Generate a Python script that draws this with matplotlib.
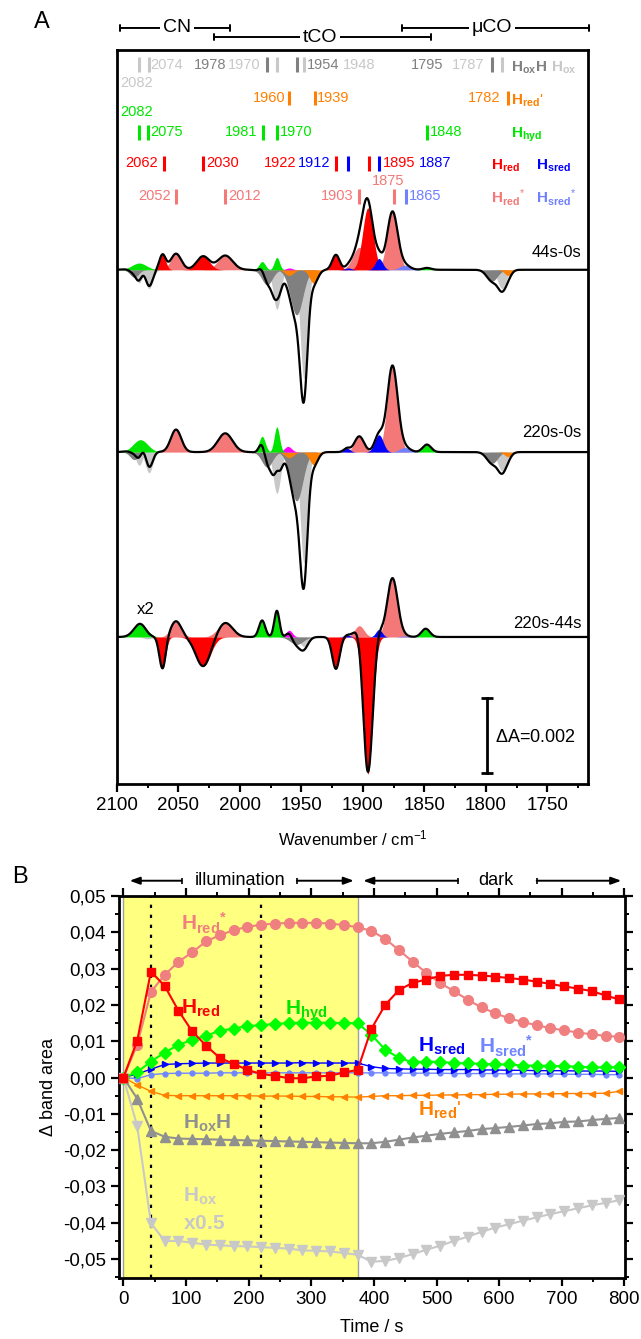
import numpy as np
import matplotlib
matplotlib.use("Agg")
import matplotlib.pyplot as plt
import matplotlib.transforms as mtransforms
from matplotlib.ticker import MultipleLocator, FuncFormatter

plt.rcParams['font.family'] = ['Liberation Sans', 'DejaVu Sans']
plt.rcParams['mathtext.fontset'] = 'custom'
plt.rcParams['mathtext.rm'] = 'Liberation Sans'
plt.rcParams['mathtext.bf'] = 'Liberation Sans:bold'
plt.rcParams['mathtext.it'] = 'Liberation Sans:italic'

# ---------------- colours ----------------
col = {'Hox': '#c8c8c8', 'HoxH': '#808080', 'Hredp': '#ff8000', 'Hhyd': '#00e600',
       'Hred': '#ff0000', 'Hsred': '#0000ff', 'Hreds': '#f47878', 'Hsreds': '#7080ff',
       'mag': '#ff00ff'}

# ---------------- panel A data: band fits (species, centre cm-1, amplitude mdA, fwhm) ----------------
bands_44_0 = [
    ('HoxH', 2086, -0.20, 8), ('Hox', 2082, -0.35, 6), ('Hox', 2074, -0.50, 7), ('Hhyd', 2082, 0.18, 14),
    ('Hred', 2063, 0.40, 6), ('Hreds', 2052, 0.43, 10), ('Hred', 2030, 0.36, 12), ('Hreds', 2012, 0.38, 14),
    ('HoxH', 1978, -0.40, 10), ('Hox', 1970, -1.05, 7), ('Hhyd', 1982, 0.22, 6), ('Hhyd', 1970, 0.33, 5),
    ('mag', 1960, 0.05, 6), ('Hredp', 1960, -0.15, 8), ('Hox', 1948, -2.90, 7), ('HoxH', 1954, -1.20, 12),
    ('Hredp', 1940, -0.36, 8),
    ('Hred', 1922, 0.40, 7), ('Hsred', 1912, 0.05, 6), ('Hreds', 1903, 0.60, 12), ('Hred', 1896, 1.65, 10),
    ('Hreds', 1876, 1.55, 10), ('Hsred', 1887, 0.30, 7), ('Hsreds', 1866, 0.12, 10), ('Hhyd', 1848, 0.05, 8),
    ('Hox', 1787, -0.50, 8), ('HoxH', 1795, -0.30, 10), ('Hredp', 1782, -0.15, 7),
]
bands_220_0 = [
    ('HoxH', 2086, -0.20, 8), ('Hox', 2082, -0.35, 6), ('Hox', 2074, -0.55, 7), ('Hhyd', 2081, 0.33, 14),
    ('Hreds', 2052, 0.60, 10), ('Hreds', 2012, 0.50, 14),
    ('HoxH', 1978, -0.40, 10), ('Hox', 1970, -1.10, 7), ('Hhyd', 1982, 0.42, 6), ('Hhyd', 1970, 0.67, 5),
    ('mag', 1961, 0.15, 7), ('Hredp', 1960, -0.15, 8), ('Hox', 1948, -2.95, 7), ('HoxH', 1954, -1.30, 12),
    ('Hredp', 1940, -0.34, 8),
    ('Hsred', 1913, 0.10, 6), ('Hreds', 1903, 0.42, 9), ('Hreds', 1876, 2.30, 10), ('Hsred', 1887, 0.46, 8),
    ('Hsreds', 1866, 0.12, 10), ('Hhyd', 1848, 0.20, 8),
    ('Hox', 1787, -0.50, 8), ('HoxH', 1795, -0.30, 10), ('Hredp', 1782, -0.12, 7),
]
bands_220_44 = [
    ('Hox', 2075, -0.05, 8), ('Hhyd', 2081, 0.36, 12),
    ('Hred', 2063, -0.85, 6), ('Hreds', 2052, 0.42, 10), ('Hred', 2030, -0.78, 14), ('Hreds', 2012, 0.38, 14),
    ('Hox', 1948, -0.25, 8), ('HoxH', 1954, -0.20, 12), ('Hhyd', 1982, 0.44, 6), ('Hhyd', 1970, 0.70, 5),
    ('mag', 1960, 0.18, 6),
    ('Hred', 1922, -0.85, 7), ('Hsred', 1913, 0.05, 6), ('Hreds', 1903, 0.30, 9), ('Hred', 1896, -3.65, 9),
    ('Hreds', 1876, 1.57, 10), ('Hsred', 1887, 0.20, 6), ('Hsreds', 1866, 0.03, 8), ('Hhyd', 1849, 0.22, 8),
]
trace_names = ['44s-0s', '220s-0s', '220s-44s']

# band marker rows (wavenumbers)
mark_ox = [2082, 2074, 1970, 1948, 1787]
mark_oxh = [1978, 1954, 1795]
mark_redp = [1960, 1939, 1782]
mark_hyd = [2082, 2075, 1981, 1970, 1848]
mark_red = [2062, 2030, 1922, 1895]
mark_sred = [1912, 1887]
mark_reds = [2052, 2012, 1903, 1875]
mark_sreds = [1865]

# ---------------- panel B data ----------------
time_s = [0, 22, 44, 66, 88, 110, 132, 154, 176, 198, 220, 242, 264, 286, 308, 330, 352, 374,
          396, 418, 440, 462, 484, 506, 528, 550, 572, 594, 616, 638, 660, 682, 704, 726, 748, 770, 792]
h_red_star = [0, 0.0090, 0.0236, 0.0283, 0.0319, 0.0345, 0.0375, 0.0392, 0.0406, 0.0415, 0.0421, 0.0424,
              0.0426, 0.0426, 0.0426, 0.0424, 0.0420, 0.0414, 0.0404, 0.0382, 0.0351, 0.0319, 0.0288,
              0.0260, 0.0238, 0.0214, 0.0193, 0.0177, 0.0163, 0.0153, 0.0144, 0.0136, 0.0130, 0.0124,
              0.0119, 0.0115, 0.0112]
h_red = [0, 0.0101, 0.0292, 0.0252, 0.0184, 0.0127, 0.0088, 0.0054, 0.0038, 0.0021, 0.0010, 0.0005,
         -0.0002, -0.0002, 0.0003, 0.0005, 0.0014, 0.0021, 0.0134, 0.0200, 0.0241, 0.0261, 0.0270,
         0.0280, 0.0283, 0.0283, 0.0281, 0.0278, 0.0274, 0.0270, 0.0264, 0.0258, 0.0251, 0.0245,
         0.0238, 0.0226, 0.0215]
h_hyd = [0, 0.0015, 0.0044, 0.0069, 0.0090, 0.0104, 0.0115, 0.0129, 0.0135, 0.0142, 0.0144, 0.0148,
         0.0150, 0.0151, 0.0151, 0.0151, 0.0150, 0.0150, 0.0118, 0.0077, 0.0054, 0.0042, 0.0044,
         0.0043, 0.0040, 0.0039, 0.0038, 0.0036, 0.0036, 0.0033, 0.0033, 0.0032, 0.0031, 0.0030,
         0.0028, 0.0028, 0.0029]
h_sred = [0, 0.0010, 0.0023, 0.0036, 0.0038, 0.0039, 0.0040, 0.0040, 0.0040, 0.0040, 0.0040, 0.0040,
          0.0040, 0.0041, 0.0040, 0.0040, 0.0040, 0.0040, 0.0030, 0.0025, 0.0024, 0.0023, 0.0023,
          0.0022, 0.0022, 0.0022, 0.0021, 0.0021, 0.0020, 0.0020, 0.0019, 0.0019, 0.0019, 0.0018,
          0.0018, 0.0018, 0.0017]
h_sred_star = [0, -0.0003, 0.0008, 0.0011, 0.0012, 0.0012, 0.0012, 0.0013, 0.0013, 0.0013, 0.0013,
               0.0013, 0.0013, 0.0013, 0.0013, 0.0013, 0.0013, 0.0013, 0.0013, 0.0013, 0.0012, 0.0012,
               0.0012, 0.0012, 0.0011, 0.0011, 0.0011, 0.0011, 0.0010, 0.0010, 0.0010, 0.0010, 0.0009,
               0.0009, 0.0009, 0.0008, 0.0008]
h_red_p = [0, -0.0020, -0.0038, -0.0049, -0.0050, -0.0050, -0.0050, -0.0050, -0.0050, -0.0050,
           -0.0051, -0.0051, -0.0051, -0.0052, -0.0052, -0.0053, -0.0053, -0.0054, -0.0052, -0.0050,
           -0.0050, -0.0049, -0.0049, -0.0048, -0.0048, -0.0047, -0.0047, -0.0046, -0.0046, -0.0045,
           -0.0045, -0.0045, -0.0044, -0.0044, -0.0044, -0.0043, -0.0038]
h_oxh = [0, -0.0058, -0.0147, -0.0163, -0.0168, -0.0169, -0.0170, -0.0171, -0.0172, -0.0173, -0.0174,
         -0.0175, -0.0176, -0.0177, -0.0178, -0.0179, -0.0180, -0.0181, -0.0181, -0.0177, -0.0171,
         -0.0165, -0.0160, -0.0155, -0.0151, -0.0147, -0.0142, -0.0139, -0.0136, -0.0132, -0.0128,
         -0.0126, -0.0122, -0.0121, -0.0117, -0.0114, -0.0111]
h_ox_half = [0, -0.0133, -0.0401, -0.0450, -0.0450, -0.0455, -0.0460, -0.0462, -0.0464, -0.0465,
             -0.0467, -0.0469, -0.0471, -0.0476, -0.0477, -0.0479, -0.0483, -0.0488, -0.0507, -0.0505,
             -0.0497, -0.0486, -0.0474, -0.0463, -0.0450, -0.0438, -0.0425, -0.0413, -0.0404, -0.0394,
             -0.0385, -0.0376, -0.0368, -0.0360, -0.0352, -0.0345, -0.0338]

W, H = 641, 1339
fig = plt.figure(figsize=(W / 100, H / 100), dpi=100)

# ======================= panel A =======================
axA = fig.add_axes([117 / W, 1 - 784 / H, (588 - 117) / W, (784 - 50) / H])
axA.set_xlim(2100, 1717)
axA.set_ylim(0, 19.57)
wn = np.linspace(2100, 1717, 1500)
offsets = [13.71, 8.85, 3.92]
draw_order = ['Hox', 'HoxH', 'Hredp', 'mag', 'Hhyd', 'Hreds', 'Hsreds', 'Hred', 'Hsred']


def gauss(x, c, a, w):
    return a * np.exp(-4 * np.log(2) * (x - c) ** 2 / w ** 2)


for bands, base in zip([bands_44_0, bands_220_0, bands_220_44], offsets):
    total = np.zeros_like(wn)
    for sp, c, a, w in bands:
        total += gauss(wn, c, a, w)
    for key in draw_order:
        for sp, c, a, w in bands:
            if sp == key:
                axA.fill_between(wn, base, base + gauss(wn, c, a, w), color=col[sp], lw=0)
    axA.plot(wn, base + total, color='k', lw=1.6)

axA.text(1722, 14.16, trace_names[0], ha='right', va='center', fontsize=12)
axA.text(1722, 9.36, trace_names[1], ha='right', va='center', fontsize=12)
axA.text(1722, 4.29, trace_names[2], ha='right', va='center', fontsize=12)
axA.text(2084, 4.64, 'x2', ha='left', va='center', fontsize=12)

# scale bar
axA.plot([1799, 1799], [0.29, 2.29], color='k', lw=2, marker='_', ms=8, mew=2)
axA.text(1793, 1.25, r'$\Delta$A=0.002', ha='left', va='center', fontsize=13)

# band marker rows
tr = mtransforms.blended_transform_factory(axA.transData, axA.transAxes)
rows = [(mark_ox, 'Hox', 0.9796), (mark_oxh, 'HoxH', 0.9796), (mark_redp, 'Hredp', 0.9346),
        (mark_hyd, 'Hhyd', 0.888), (mark_red, 'Hred', 0.846), (mark_sred, 'Hsred', 0.846),
        (mark_reds, 'Hreds', 0.801), (mark_sreds, 'Hsreds', 0.801)]
for marks, key, yc in rows:
    for m in marks:
        axA.plot([m, m], [yc - 0.0102, yc + 0.0102], color=col[key], lw=2.2, transform=tr,
                 solid_capstyle='butt')

peak_labels = [
    ('2074', 2073.2, 'left', 0.9796, 'Hox'), ('2082', 2097.5, 'left', 0.955, 'Hox'),
    ('1978', 2010.9, 'right', 0.9796, 'HoxH'), ('1970', 1983.2, 'right', 0.9796, 'Hox'),
    ('1954', 1946.0, 'left', 0.9796, 'HoxH'), ('1948', 1916.6, 'left', 0.9796, 'Hox'),
    ('1795', 1834.8, 'right', 0.9796, 'HoxH'), ('1787', 1801.0, 'right', 0.9796, 'Hox'),
    ('1960', 1962.9, 'right', 0.9346, 'Hredp'), ('1939', 1937.2, 'left', 0.9346, 'Hredp'),
    ('1782', 1788.0, 'right', 0.9346, 'Hredp'),
    ('2082', 2097.5, 'left', 0.9155, 'Hhyd'), ('2075', 2073.2, 'left', 0.888, 'Hhyd'),
    ('1981', 1986.0, 'right', 0.888, 'Hhyd'), ('1970', 1967.5, 'left', 0.888, 'Hhyd'),
    ('1848', 1845.7, 'left', 0.888, 'Hhyd'),
    ('2062', 2066.4, 'right', 0.846, 'Hred'), ('2030', 2027.7, 'left', 0.846, 'Hred'),
    ('1922', 1954.0, 'right', 0.846, 'Hred'), ('1912', 1926.1, 'right', 0.846, 'Hsred'),
    ('1895', 1883.6, 'left', 0.846, 'Hred'), ('1887', 1854.4, 'left', 0.846, 'Hsred'),
    ('2052', 2056.1, 'right', 0.801, 'Hreds'), ('2012', 2009.5, 'left', 0.801, 'Hreds'),
    ('1903', 1907.4, 'right', 0.801, 'Hreds'), ('1875', 1879.5, 'center', 0.8215, 'Hreds'),
    ('1865', 1862.5, 'left', 0.801, 'Hsreds'),
]
for txt, x, ha, y, key in peak_labels:
    axA.text(x, y, txt, ha=ha, va='center', fontsize=10.5, color=col[key], transform=tr)

species_labels = [
    (r'$\mathbf{H_{ox}H}$', 1779.3, 0.976, 'HoxH'), (r'$\mathbf{H_{ox}}$', 1746.8, 0.976, 'Hox'),
    (r"$\mathbf{H_{red}}$'", 1779.3, 0.931, 'Hredp'), (r'$\mathbf{H_{hyd}}$', 1779.3, 0.884, 'Hhyd'),
    (r'$\mathbf{H_{red}}$', 1795.5, 0.842, 'Hred'), (r'$\mathbf{H_{sred}}$', 1759.5, 0.842, 'Hsred'),
    (r'$\mathbf{H_{red}}^{*}$', 1795.5, 0.799, 'Hreds'), (r'$\mathbf{H_{sred}}^{*}$', 1759.5, 0.799, 'Hsreds'),
]
for txt, x, y, key in species_labels:
    axA.text(x, y, txt, ha='left', va='center', fontsize=11, color=col[key], transform=tr)

# region brackets above panel A
brackets = [('CN', 2097.5, 2008, 1.030, 2051), ('tCO', 2021, 1845, 1.0177, 1935),
            ('\u03bcCO', 1868, 1716, 1.030, 1795)]
for name, x0, x1, y, xc in brackets:
    axA.annotate('', xy=(x0, y), xytext=(x1, y), xycoords=tr, textcoords=tr,
                 arrowprops=dict(arrowstyle='|-|, widthA=0.25, widthB=0.25', lw=1.4,
                                 shrinkA=0, shrinkB=0, color='k'), annotation_clip=False)
    axA.text(xc, y, name, ha='center', va='center', fontsize=14, transform=tr,
             bbox=dict(facecolor='white', edgecolor='none', pad=2))

axA.set_yticks([])
axA.xaxis.set_major_locator(MultipleLocator(50))
axA.xaxis.set_minor_locator(MultipleLocator(25))
axA.tick_params(axis='x', which='major', direction='out', length=6, width=1.6, labelsize=13.5)
axA.tick_params(axis='x', which='minor', direction='out', length=3, width=1.4)
for s in axA.spines.values():
    s.set_linewidth(2)
axA.set_xlabel('Wavenumber / cm$^{-1}$', fontsize=12, labelpad=10)
fig.text(42 / W, 1 - 22 / H, 'A', fontsize=17, ha='center', va='center')

# ======================= panel B =======================
axB = fig.add_axes([119 / W, 1 - 1278 / H, (625 - 119) / W, (1278 - 896) / H])
axB.set_xlim(-7, 801)
axB.set_ylim(-0.0552, 0.0500)
axB.axvspan(0, 375, facecolor='#ffff80', edgecolor='#a0a0a0', lw=1, zorder=0)
axB.axvline(44, color='k', ls=(0, (1.5, 3)), lw=1.6, zorder=1)
axB.axvline(220, color='k', ls=(0, (1.5, 3)), lw=1.6, zorder=1)

axB.plot(time_s, h_ox_half, color='#c8c8c8', marker='v', ms=7, lw=1.5, zorder=3)
axB.plot(time_s, h_oxh, color='#909090', marker='^', ms=7, lw=1.5, zorder=3)
axB.plot(time_s, h_red_p, color='#ff8000', marker='<', ms=4, lw=1, zorder=3)
axB.plot(time_s, h_sred_star, color='#6f86ff', marker='o', ms=3.5, lw=1, zorder=3)
axB.plot(time_s, h_sred, color='#0000ff', marker='>', ms=4, lw=1, zorder=3)
axB.plot(time_s, h_hyd, color='#00ff00', marker='D', ms=6, lw=1.5, zorder=3)
axB.plot(time_s, h_red_star, color='#f08080', marker='o', ms=7, lw=1.5, zorder=3)
axB.plot(time_s, h_red, color='#ff0000', marker='s', ms=6, lw=1.5, zorder=4)

labB = [(r'$\mathbf{H_{red}}^{\mathbf{*}}$', 92, 0.0425, '#f08080'),
        (r'$\mathbf{H_{red}}$', 92, 0.0190, '#ff0000'),
        (r'$\mathbf{H_{hyd}}$', 258, 0.0185, '#00e600'),
        (r'$\mathbf{H_{sred}}$', 470, 0.0085, '#0000ff'),
        (r'$\mathbf{H_{sred}}^{\mathbf{*}}$', 568, 0.0085, '#6f86ff'),
        (r"$\mathbf{H_{red}}$'", 470, -0.0090, '#ff8000'),
        (r'$\mathbf{H_{ox}H}$', 95, -0.0125, '#909090'),
        (r'$\mathbf{H_{ox}}$', 95, -0.0326, '#c8c8c8'),
        (r'$\mathbf{x0.5}$', 95, -0.0402, '#c8c8c8')]
for txt, x, y, c in labB:
    axB.text(x, y, txt, ha='left', va='center', fontsize=15, color=c, zorder=5)

axB.xaxis.set_major_locator(MultipleLocator(100))
axB.xaxis.set_minor_locator(MultipleLocator(50))
axB.yaxis.set_major_locator(MultipleLocator(0.01))
axB.yaxis.set_minor_locator(MultipleLocator(0.005))
axB.yaxis.set_major_formatter(FuncFormatter(lambda v, p: f'{v:.2f}'.replace('.', ',').replace('-0,00', '0,00')))
axB.tick_params(which='major', direction='out', length=6, width=1.6, labelsize=13.5)
axB.tick_params(which='minor', direction='out', length=3, width=1.4)
axB.tick_params(which='both', top=True, right=True, labeltop=False, labelright=False)
for s in axB.spines.values():
    s.set_linewidth(2)
axB.set_xlabel('Time / s', fontsize=13, labelpad=8)
axB.set_ylabel(r'$\Delta$ band area', fontsize=13, labelpad=4)
fig.text(20 / W, 1 - 877 / H, 'B', fontsize=17, ha='center', va='center')

# illumination / dark arrows
trB = mtransforms.blended_transform_factory(axB.transData, axB.transAxes)
yar = 1.04
segments = [(93, 10), (277, 368), (534, 383), (660, 795)]
for inner, outer in segments:
    axB.annotate('', xy=(outer, yar), xytext=(inner, yar), xycoords=trB, textcoords=trB,
                 arrowprops=dict(arrowstyle='-|>, head_length=0.6, head_width=0.22', lw=1.4,
                                 color='k', shrinkA=0, shrinkB=0), annotation_clip=False)
    axB.plot([inner], [yar], marker='|', ms=5, mew=1.2, color='k', transform=trB, clip_on=False)
axB.text(186, yar, 'illumination', ha='center', va='center', fontsize=13, transform=trB)
axB.text(595, yar, 'dark', ha='center', va='center', fontsize=13, transform=trB)

fig.savefig('out.png', dpi=100)
